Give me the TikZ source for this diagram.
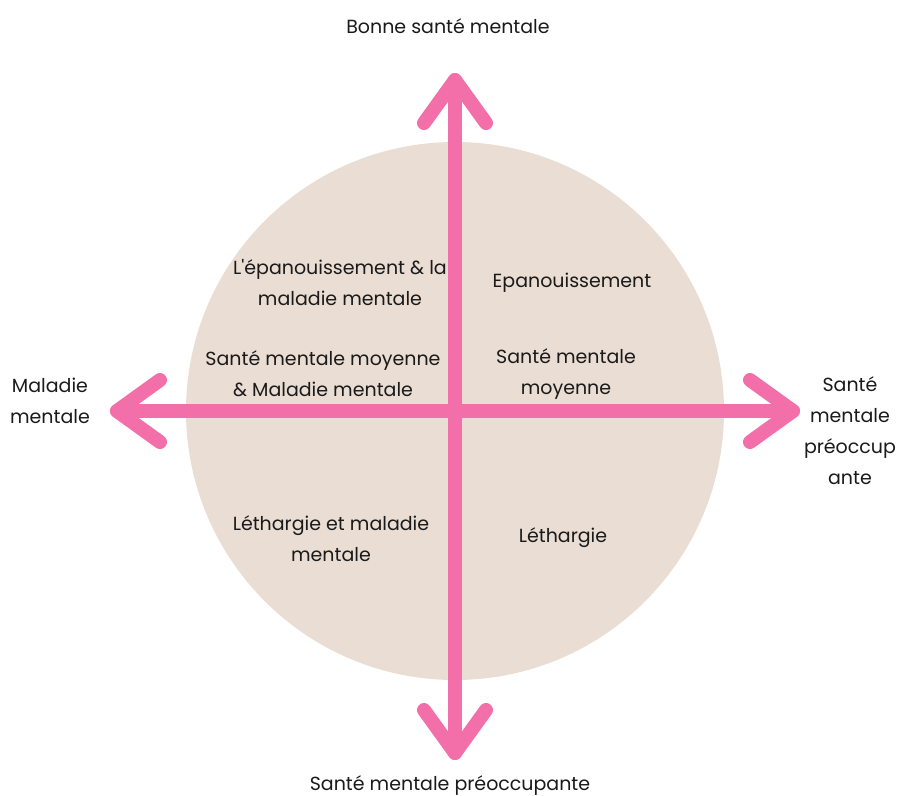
\documentclass[tikz,border=0pt]{standalone}
\usepackage{fontspec}
\setmainfont{Poppins}
\definecolor{pinkarrow}{HTML}{F26FA9}
\definecolor{beige}{HTML}{EADDD3}
\definecolor{txt}{HTML}{1A1A1A}
\begin{document}
\begin{tikzpicture}[x=1pt,y=-1pt,
  lbl/.style={text=txt,font=\fontsize{19}{31}\selectfont,align=center,inner sep=0pt},
  axis/.style={draw=pinkarrow,line width=14pt,line cap=round,line join=round}]
\useasboundingbox (0,0) rectangle (898,796);
\fill[beige] (455,411) circle[radius=269];
\coordinate (top) at (455,80);
\coordinate (bot) at (455,753);
\coordinate (lft) at (117,411);
\coordinate (rgt) at (793,411);
\draw[axis] (top) -- (bot);
\draw[axis] (lft) -- (rgt);
\draw[axis] ([xshift=-31pt,yshift=-43pt]top) -- (top) -- ([xshift=31pt,yshift=-43pt]top);
\draw[axis] ([xshift=-31pt,yshift=43pt]bot) -- (bot) -- ([xshift=31pt,yshift=43pt]bot);
\draw[axis] ([xshift=43pt,yshift=-31pt]lft) -- (lft) -- ([xshift=43pt,yshift=31pt]lft);
\draw[axis] ([xshift=-43pt,yshift=-31pt]rgt) -- (rgt) -- ([xshift=-43pt,yshift=31pt]rgt);
\node[lbl] (t) at (448,26) {Bonne santé mentale};
\node[lbl] (b) at (450,786) {Santé mentale préoccupante};
\node[lbl] (l) at (50,401) {Maladie\\mentale};
\node[lbl] (r) at (850,431) {Santé\\mentale\\préoccup\\ante};
\node[lbl] (q1) at (340,283) {L\textquotesingle épanouissement \& la\\maladie mentale};
\node[lbl] (q2) at (572,283) {Epanouissement};
\node[lbl] (q3) at (323,374) {Santé mentale moyenne\\\& Maladie mentale};
\node[lbl] (q4) at (566,374) {Santé mentale\\moyenne};
\node[lbl] (q5) at (331,539) {Léthargie et maladie\\mentale};
\node[lbl] (q6) at (563,538) {Léthargie};
\end{tikzpicture}
\end{document}
